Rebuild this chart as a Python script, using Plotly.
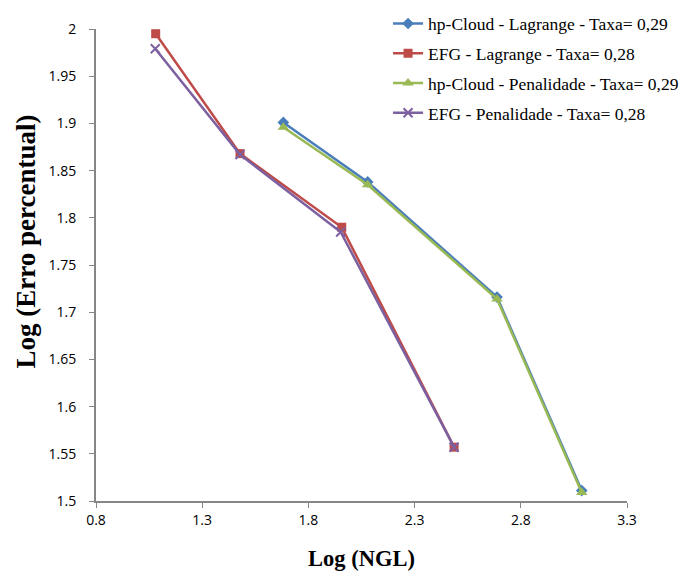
import plotly.graph_objects as go

# Convergence data: log of degrees of freedom vs log of percentage error
hp_lagrange_x = [1.682, 2.079, 2.688, 3.087]
hp_lagrange_y = [1.901, 1.838, 1.716, 1.511]

efg_lagrange_x = [1.081, 1.478, 1.957, 2.486]
efg_lagrange_y = [1.995, 1.868, 1.790, 1.557]

hp_penal_x = [1.682, 2.079, 2.688, 3.087]
hp_penal_y = [1.896, 1.835, 1.714, 1.509]

efg_penal_x = [1.079, 1.478, 1.952, 2.486]
efg_penal_y = [1.979, 1.867, 1.785, 1.557]

series_names = [
    "hp-Cloud - Lagrange - Taxa= 0,29",
    "EFG - Lagrange - Taxa= 0,28",
    "hp-Cloud - Penalidade - Taxa= 0,29",
    "EFG - Penalidade - Taxa= 0,28",
]

x_ticks = [0.8, 1.3, 1.8, 2.3, 2.8, 3.3]
x_tick_labels = ["0.8", "1.3", "1.8", "2.3", "2.8", "3.3"]
y_ticks = [1.5, 1.55, 1.6, 1.65, 1.7, 1.75, 1.8, 1.85, 1.9, 1.95, 2.0]
y_tick_labels = ["1.5", "1.55", "1.6", "1.65", "1.7", "1.75", "1.8", "1.85", "1.9", "1.95", "2"]

colors = ["#4A7EBB", "#BE4B48", "#98B954", "#7D60A0"]
symbols = ["diamond", "square", "triangle-up", "x-thin"]
sizes = [9, 9, 10, 9]

data = [
    (hp_lagrange_x, hp_lagrange_y),
    (efg_lagrange_x, efg_lagrange_y),
    (hp_penal_x, hp_penal_y),
    (efg_penal_x, efg_penal_y),
]

fig = go.Figure()
for i, ((xs, ys), name) in enumerate(zip(data, series_names)):
    marker = dict(symbol=symbols[i], size=sizes[i], color=colors[i])
    if symbols[i] == "x-thin":
        marker["line"] = dict(width=2, color=colors[i])
    fig.add_trace(go.Scatter(
        x=xs, y=ys, name=name, mode="lines+markers",
        line=dict(color=colors[i], width=2.5),
        marker=marker,
        legendgroup=f"g{i}",
    ))

axis_line = "#868686"
tick_font = dict(family="Open Sans, Liberation Sans, sans-serif", size=14, color="#000000")
serif = "Liberation Serif, Times New Roman, serif"

fig.update_layout(
    width=691, height=572,
    margin=dict(l=96, r=64, t=29, b=71, autoexpand=False),
    paper_bgcolor="white", plot_bgcolor="white",
    showlegend=True,
    legend=dict(
        x=0.55, y=1.0495, xanchor="left", yanchor="top",
        font=dict(family=serif, size=17.5, color="#000000"),
        bgcolor="rgba(0,0,0,0)", tracegroupgap=4,
    ),
    xaxis=dict(
        range=[0.8, 3.3], tickvals=x_ticks, ticktext=x_tick_labels,
        showgrid=False, zeroline=False, showline=True, linecolor=axis_line, linewidth=2,
        ticks="outside", ticklen=5, tickcolor=axis_line, tickwidth=1,
        tickfont=tick_font,
        title=dict(text="<b>Log (NGL)</b>", font=dict(family=serif, size=22.5, color="#000000"),
                   standoff=22),
    ),
    yaxis=dict(
        range=[1.5, 2.0], tickvals=y_ticks, ticktext=y_tick_labels,
        showgrid=False, zeroline=False, showline=True, linecolor=axis_line, linewidth=2,
        ticks="outside", ticklen=5, tickcolor=axis_line, tickwidth=1,
        tickfont=tick_font, ticklabelstandoff=10,
    ),
    annotations=[dict(
        text="<b>Log (Erro percentual)</b>", textangle=-90,
        xref="paper", yref="paper", x=-0.1328, y=0.551,
        xanchor="center", yanchor="middle", showarrow=False,
        font=dict(family=serif, size=27, color="#000000"),
    )],
)

fig.write_html("out.html")
